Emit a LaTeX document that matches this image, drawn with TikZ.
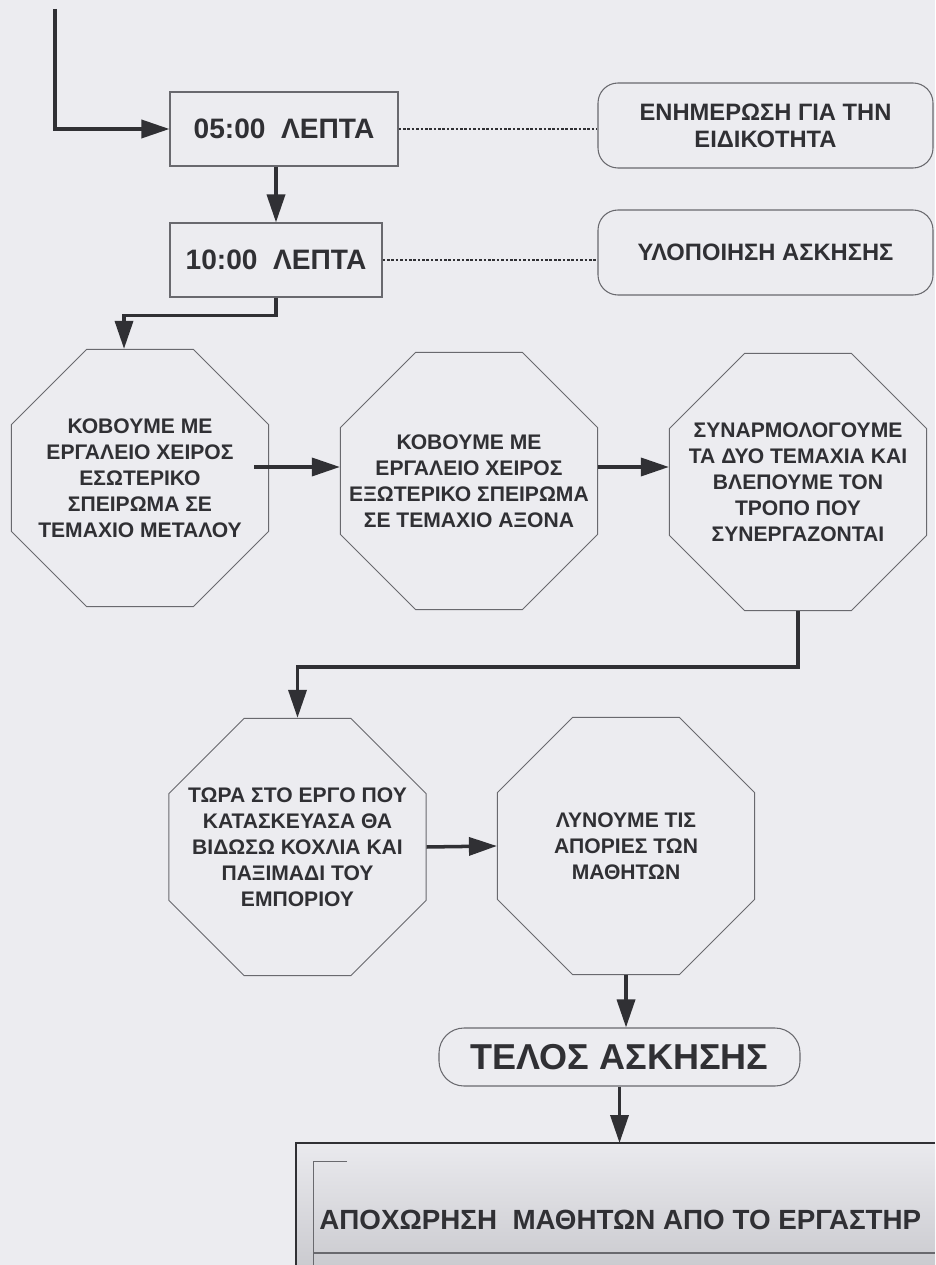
\documentclass[tikz,border=0pt]{standalone}
\usepackage{fontspec}
\setmainfont{Liberation Sans}
\usetikzlibrary{shapes.geometric,arrows.meta}

\definecolor{paper}{RGB}{236,236,240}
\definecolor{ink}{RGB}{48,48,52}
\definecolor{edge}{RGB}{105,105,110}
\definecolor{panelhi}{RGB}{234,234,238}
\definecolor{panello}{RGB}{203,203,208}

\begin{document}
\begin{tikzpicture}[x=0.2mm, y=-0.2mm,
    flow/.style={draw=ink, line width=2pt, -{Triangle[length=5.6mm,width=3.6mm]}},
    dots/.style={draw=ink, line width=0.8pt, dash pattern=on 1.5pt off 1pt},
    timebox/.style={draw=edge, line width=0.6pt, minimum height=14.8mm, text=ink,
        font=\bfseries\fontsize{16}{19}\selectfont},
    notebox/.style={draw=edge, line width=0.6pt, rounded corners=4mm, minimum width=67mm,
        minimum height=17mm, text=ink, align=center, font=\bfseries\fontsize{13.5}{15.4}\selectfont},
    octo/.style={draw=edge, line width=0.5pt, regular polygon, regular polygon sides=8,
        minimum size=55.7mm, inner sep=-9mm, text=ink, align=center,
        font=\bfseries\fontsize{12}{14.8}\selectfont}]

    \useasboundingbox (0,0) rectangle (935,1265);
    \fill[paper] (0,0) rectangle (935,1265);

    \node[timebox, minimum width=45.6mm] (five) at (284,129) {05:00~~ΛΕΠΤΑ};
    \node[timebox, minimum width=42.4mm] (ten) at (276,260) {10:00~~ΛΕΠΤΑ};

    \node[notebox] (info) at (765.5,125.5) {ΕΝΗΜΕΡΩΣΗ ΓΙΑ ΤΗΝ\\ΕΙΔΙΚΟΤΗΤΑ};
    \node[notebox] (task) at (765.5,252.5) {ΥΛΟΠΟΙΗΣΗ ΑΣΚΗΣΗΣ};

    \node[octo] (inner) at (140,478) {ΚΟΒΟΥΜΕ ΜΕ\\ΕΡΓΑΛΕΙΟ ΧΕΙΡΟΣ\\ΕΣΩΤΕΡΙΚΟ\\ΣΠΕΙΡΩΜΑ ΣΕ\\ΤΕΜΑΧΙΟ ΜΕΤΑΛΟΥ};
    \node[octo] (outer) at (469,481) {ΚΟΒΟΥΜΕ ΜΕ\\ΕΡΓΑΛΕΙΟ ΧΕΙΡΟΣ\\ΕΞΩΤΕΡΙΚΟ ΣΠΕΙΡΩΜΑ\\ΣΕ ΤΕΜΑΧΙΟ ΑΞΟΝΑ};
    \node[octo] (fit) at (798,482) {ΣΥΝΑΡΜΟΛΟΓΟΥΜΕ\\ΤΑ ΔΥΟ ΤΕΜΑΧΙΑ ΚΑΙ\\ΒΛΕΠΟΥΜΕ ΤΟΝ\\ΤΡΟΠΟ ΠΟΥ\\ΣΥΝΕΡΓΑΖΟΝΤΑΙ};
    \node[octo] (bolt) at (297.5,847) {ΤΩΡΑ ΣΤΟ ΕΡΓΟ ΠΟΥ\\ΚΑΤΑΣΚΕΥΑΣΑ ΘΑ\\ΒΙΔΩΣΩ ΚΟΧΛΙΑ ΚΑΙ\\ΠΑΞΙΜΑΔΙ ΤΟΥ\\ΕΜΠΟΡΙΟΥ};
    \node[octo] (ask) at (626,846) {ΛΥΝΟΥΜΕ ΤΙΣ\\ΑΠΟΡΙΕΣ ΤΩΝ\\ΜΑΘΗΤΩΝ};

    \node[draw=edge, line width=0.6pt, rounded corners=5mm, minimum width=72.2mm, minimum height=11.6mm,
        text=ink, font=\bfseries\fontsize{20.5}{24}\selectfont] (end) at (619.5,1057) {ΤΕΛΟΣ ΑΣΚΗΣΗΣ};

    \fill[top color=panelhi, bottom color=panello] (296,1143) rectangle (935,1265);
    \draw[ink, line width=0.9pt] (935,1143) -- (296,1143) -- (296,1265);
    \draw[edge, line width=0.5pt] (347,1161) -- (313,1161) -- (313,1265);
    \draw[edge, line width=0.7pt] (313,1253) -- (935,1253);
    \coordinate (panel) at (619.5,1143);
    \node[anchor=base west, inner sep=0pt, text=ink, font=\bfseries\fontsize{15.8}{19}\selectfont]
        (leave) at (319,1229) {ΑΠΟΧΩΡΗΣΗ~~ΜΑΘΗΤΩΝ ΑΠΟ ΤΟ ΕΡΓΑΣΤΗΡ};

    \coordinate (start) at (55,9);
    \draw[flow] (start) |- (five.west);
    \draw[flow] (five.south -| ten.north) -- (ten.north);
    \draw[flow] (ten.south) -- ++(0,18) -| ([xshift=-3.2mm]inner.north);
    \draw[flow] ([xshift=-3mm,yshift=2.2mm]inner.east) -- ([yshift=2.2mm]inner.east -| outer.west);
    \draw[flow] ([yshift=2.8mm]outer.east) -- ([yshift=2.8mm]outer.east -| fit.west);
    \draw[flow] (fit.south) -- ++(0,56) -| (bolt.north);
    \draw[flow] (bolt.east) -- (ask.west);
    \draw[flow] (ask.south) -- (ask.south |- end.north);
    \draw[flow] (end.south) -- (panel);

    \draw[dots] (five.east) -- (five.east -| info.west);
    \draw[dots] (ten.east) -- (ten.east -| task.west);

\end{tikzpicture}
\end{document}
